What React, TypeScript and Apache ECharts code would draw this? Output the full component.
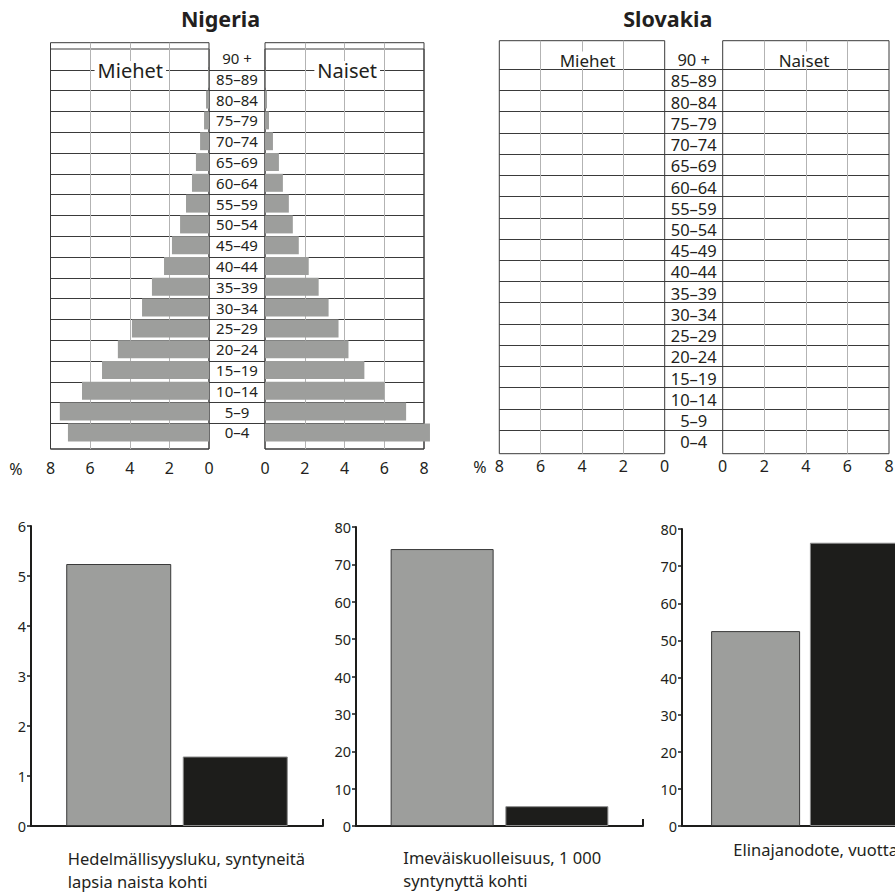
import React, { useEffect, useRef } from "react";
import * as echarts from "echarts";

// ---------- data ----------
const ageGroups = [
  "0–4", "5–9", "10–14", "15–19", "20–24", "25–29", "30–34", "35–39", "40–44",
  "45–49", "50–54", "55–59", "60–64", "65–69", "70–74", "75–79", "80–84", "85–89", "90 +",
];
// Nigeria population share (%) by age group, bottom (0–4) to top (90 +)
const nigeriaMen = [7.12, 7.53, 6.41, 5.4, 4.6, 3.89, 3.38, 2.88, 2.27, 1.87, 1.46, 1.16, 0.86, 0.66, 0.45, 0.25, 0.15, 0.04, 0.02];
const nigeriaWomen = [8.3, 7.1, 6.0, 5.0, 4.2, 3.7, 3.2, 2.7, 2.2, 1.7, 1.4, 1.2, 0.9, 0.7, 0.4, 0.2, 0.1, 0.03, 0.01];

const pyramidMax = 8;
const pyramidStep = 2;

const indicatorLabels = [
  "Hedelmällisyysluku, syntyneitä\nlapsia naista kohti",
  "Imeväiskuolleisuus, 1 000\nsyntynyttä kohti",
  "Elinajanodote, vuotta",
];
const nigeriaIndicators = [5.24, 74.1, 52.5];
const slovakiaIndicators = [1.39, 5.3, 76.3];
const indicatorMax = [6, 80, 80];
const indicatorStep = [1, 10, 10];

// ---------- styles ----------
const INK = "#231f20";
const FONT = '"Noto Sans", sans-serif';
const GRAY = "#9d9e9c";
const BLACK = "#1d1d1b";
const LINE = "#3a3a3a";
const VLINE = "#b3b3b3";

const gridBox = (left: number, top: number, width: number, height: number, border: boolean) => ({
  left, top, width, height,
  show: border,
  borderColor: LINE,
  borderWidth: 1,
  backgroundColor: "transparent",
  containLabel: false,
  outerBoundsMode: "none",
});

const hiddenAxis = (g: number) => ({ gridIndex: g, type: "value", min: 0, max: 1, show: false });

const frameX = (g: number, inverse: boolean, margin: number) => ({
  gridIndex: g,
  type: "value",
  min: 0,
  max: pyramidMax,
  interval: pyramidStep,
  inverse,
  position: "bottom",
  axisLine: { show: false },
  axisTick: { show: false },
  axisLabel: { show: true, margin, fontSize: 16, color: INK, fontFamily: FONT },
  splitLine: { show: true, showMinLine: false, showMaxLine: false, lineStyle: { color: VLINE, width: 1 } },
});

const rowLinesY = (g: number) => ({
  gridIndex: g,
  type: "value",
  min: 0,
  max: 17,
  interval: 1,
  axisLine: { show: false },
  axisTick: { show: false },
  axisLabel: { show: false },
  splitLine: { show: true, lineStyle: { color: LINE, width: 1 } },
});

const ageLabelY = (g: number, margin: number, fontSize: number, lineHeight: number) => ({
  gridIndex: g,
  type: "category",
  data: ageGroups,
  position: "right",
  axisLine: { show: false },
  axisTick: { show: false },
  axisLabel: {
    show: true, interval: 0, margin, align: "center", fontSize, lineHeight,
    color: INK, fontFamily: FONT,
  },
  splitLine: { show: false },
});

const hiddenCatY = (g: number) => ({
  gridIndex: g,
  type: "category",
  data: ageGroups,
  show: false,
});

const barX = (g: number, inverse: boolean) => ({
  gridIndex: g, type: "value", min: 0, max: pyramidMax, inverse, show: false,
});

const indX = (g: number, i: number) => ({
  gridIndex: g,
  type: "category",
  data: [indicatorLabels[i]],
  axisLine: { show: true, lineStyle: { color: BLACK, width: 2 } },
  axisTick: { show: true, inside: true, length: 7, lineStyle: { color: BLACK, width: 2 } },
  axisLabel: { show: false },
  splitLine: { show: false },
});

const indY = (g: number, i: number) => ({
  gridIndex: g,
  type: "value",
  min: 0,
  max: indicatorMax[i],
  interval: indicatorStep[i],
  axisLine: { show: true, lineStyle: { color: BLACK, width: 2 } },
  axisTick: { show: true, length: 4, lineStyle: { color: BLACK, width: 1.5 } },
  axisLabel: { margin: 5, fontSize: 14.5, color: INK, fontFamily: FONT },
  splitLine: { show: false },
});

const txt = (
  text: string, x: number, y: number, size: number,
  align: string, vAlign: string, extra: any = {}
) => ({
  type: "text",
  x, y, z: 100,
  silent: true,
  style: {
    text,
    fill: INK,
    fontSize: size,
    fontFamily: FONT,
    fontWeight: extra.bold ? "bold" : "normal",
    align, textAlign: align,
    verticalAlign: vAlign, textVerticalAlign: vAlign,
    lineHeight: extra.lineHeight,
    backgroundColor: extra.bg,
    padding: extra.padding,
  },
});

export default function App() {
  const ref = useRef<HTMLDivElement>(null);

  useEffect(() => {
    if (!ref.current) return;
    const chart = echarts.init(ref.current, null, { renderer: "svg" });

    const grids = [
      gridBox(50.5, 42.7, 158.5, 406.3, true),   // 0 NG left frame
      gridBox(50.5, 49, 158.5, 400, true),       // 1 NG left inner top line
      gridBox(265, 42.7, 159, 406.3, true),      // 2 NG right frame
      gridBox(265, 49, 159, 400, true),          // 3 NG right inner top line
      gridBox(50.5, 69.8, 373.5, 353.6, false),  // 4 NG row lines
      gridBox(50.5, 47.6, 158.5, 395.2, false),  // 5 NG men bars + labels
      gridBox(265, 47.6, 159, 395.2, false),     // 6 NG women bars
      gridBox(499.3, 40.7, 165.4, 413, true),    // 7 SK left frame
      gridBox(722.7, 40.7, 166.3, 413, true),    // 8 SK right frame
      gridBox(499.3, 69.3, 389.7, 360.7, false), // 9 SK row lines
      gridBox(499.3, 49.1, 165.4, 403.2, false), // 10 SK labels
      gridBox(31, 526, 292, 300, false),         // 11 fertility
      gridBox(356, 527, 287, 299, false),        // 12 infant mortality
      gridBox(682, 529, 246, 297, false),        // 13 life expectancy
    ];

    const xAxes = [
      frameX(0, true, 11),
      hiddenAxis(1),
      frameX(2, false, 11),
      hiddenAxis(3),
      hiddenAxis(4),
      barX(5, true),
      barX(6, false),
      frameX(7, true, 4),
      frameX(8, false, 4),
      hiddenAxis(9),
      hiddenAxis(10),
      indX(11, 0),
      indX(12, 1),
      indX(13, 2),
    ];

    const yAxes = [
      hiddenAxis(0),
      hiddenAxis(1),
      hiddenAxis(2),
      hiddenAxis(3),
      rowLinesY(4),
      ageLabelY(5, 28, 15, 15),
      hiddenCatY(6),
      hiddenAxis(7),
      hiddenAxis(8),
      rowLinesY(9),
      ageLabelY(10, 29, 16.5, 16),
      indY(11, 0),
      indY(12, 1),
      indY(13, 2),
    ];

    const barWidths = [105, 103, 89];
    const barGaps = ["11%", "11.4%", "11%"];

    const indicatorSeries: any[] = [];
    [11, 12, 13].forEach((g, i) => {
      indicatorSeries.push({
        name: "Nigeria",
        type: "bar",
        xAxisIndex: g,
        yAxisIndex: g,
        data: [nigeriaIndicators[i]],
        barWidth: barWidths[i],
        barGap: barGaps[i],
        itemStyle: { color: GRAY, borderColor: LINE, borderWidth: 1 },
      });
      indicatorSeries.push({
        name: "Slovakia",
        type: "bar",
        xAxisIndex: g,
        yAxisIndex: g,
        data: [slovakiaIndicators[i]],
        barWidth: barWidths[i],
        barGap: barGaps[i],
        itemStyle: { color: BLACK, borderColor: "#8a8a8a", borderWidth: 1 },
      });
    });

    const option: any = {
      animation: false,
      backgroundColor: "#ffffff",
      textStyle: { fontFamily: FONT, color: INK },
      grid: grids,
      xAxis: xAxes,
      yAxis: yAxes,
      series: [
        {
          name: "Miehet",
          type: "bar",
          xAxisIndex: 5,
          yAxisIndex: 5,
          data: nigeriaMen,
          barWidth: 18,
          clip: false,
          itemStyle: { color: GRAY },
        },
        {
          name: "Naiset",
          type: "bar",
          xAxisIndex: 6,
          yAxisIndex: 6,
          data: nigeriaWomen,
          barWidth: 18,
          clip: false,
          itemStyle: { color: GRAY },
        },
        ...indicatorSeries,
      ],
      graphic: {
        elements: [
          txt("Nigeria", 220.5, 18, 21.5, "center", "middle", { bold: true }),
          txt("Slovakia", 667.8, 18, 21.5, "center", "middle", { bold: true }),
          txt("Miehet", 130.3, 70, 20, "center", "middle", { bg: "#ffffff", padding: [0, 3], lineHeight: 18 }),
          txt("Naiset", 347.2, 70, 20, "center", "middle", { bg: "#ffffff", padding: [0, 3], lineHeight: 18 }),
          txt("Miehet", 587.5, 60, 17, "center", "middle", { bg: "#ffffff", padding: [0, 2], lineHeight: 17 }),
          txt("Naiset", 804, 60, 17, "center", "middle", { bg: "#ffffff", padding: [0, 2], lineHeight: 17 }),
          txt("%", 16, 469, 16, "center", "middle"),
          txt("%", 480, 467, 16, "center", "middle"),
          txt(indicatorLabels[0], 67.7, 846.5, 16.5, "left", "top", { lineHeight: 23 }),
          txt(indicatorLabels[1], 403.3, 845.5, 16.5, "left", "top", { lineHeight: 23 }),
          txt(indicatorLabels[2], 733.3, 849, 16.5, "left", "middle"),
        ],
      },
    };

    chart.setOption(option);
    return () => chart.dispose();
  }, []);

  return (
    <div
      ref={ref}
      style={{ position: "absolute", left: 0, top: 0, width: 895, height: 892, background: "#fff" }}
    />
  );
}
